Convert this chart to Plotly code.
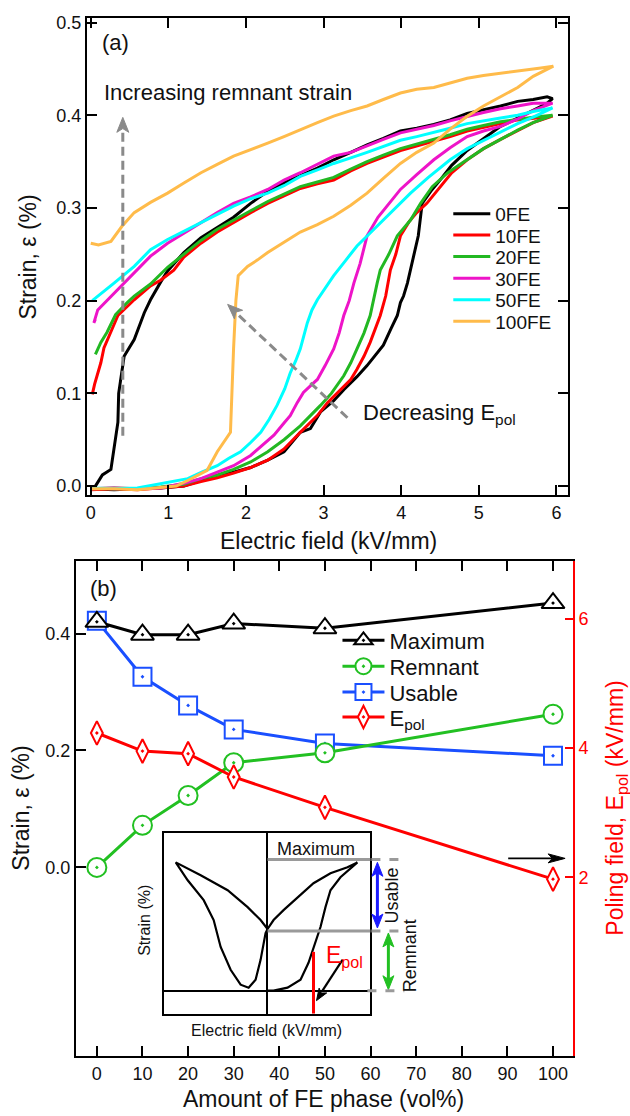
import plotly.graph_objects as go

W, H = 630, 1116
def px(x): return x / W
def py(y): return 1 - y / H

FONT = "Liberation Sans, Arial, sans-serif"

# ---------------- panel (a): strain vs electric field loops ----------------
fe_labels = ["0FE", "10FE", "20FE", "30FE", "50FE", "100FE"]
fe_colors = ["#000000", "#ff0000", "#22b822", "#ee14c8", "#00ffff", "#ffbb4a"]

E_0fe = [0.0, 0.3, 0.6, 0.9, 1.2, 1.42, 1.63, 1.84, 2.06, 2.28, 2.49, 2.7, 2.83, 2.96, 3.13, 3.26, 3.43, 3.56, 3.69, 3.77, 3.87, 3.95, 3.99, 4.03, 4.08, 4.12, 4.22, 4.27, 4.38, 4.5, 4.65, 4.85, 5.06, 5.28, 5.5, 5.7, 5.88, 5.95,
         5.88, 5.7, 5.5, 5.28, 5.06, 4.85, 4.63, 4.42, 4.2, 3.99, 3.77, 3.56, 3.35, 3.13, 2.92, 2.7, 2.49, 2.28, 2.06, 1.84, 1.63, 1.42, 1.2, 0.99, 0.9, 0.77, 0.69, 0.56, 0.43, 0.36, 0.35, 0.26, 0.15, 0.06]
S_0fe = [-0.003, -0.004, -0.003, -0.002, 0.0, 0.006, 0.01, 0.015, 0.02, 0.028, 0.037, 0.058, 0.062, 0.08, 0.092, 0.104, 0.118, 0.13, 0.143, 0.152, 0.17, 0.184, 0.198, 0.205, 0.219, 0.233, 0.27, 0.305, 0.318, 0.33, 0.346, 0.362, 0.375, 0.388, 0.397, 0.405, 0.413, 0.418,
         0.42, 0.417, 0.415, 0.41, 0.406, 0.402, 0.395, 0.39, 0.386, 0.383, 0.375, 0.368, 0.36, 0.352, 0.343, 0.335, 0.327, 0.318, 0.305, 0.29, 0.279, 0.268, 0.252, 0.232, 0.22, 0.201, 0.187, 0.158, 0.14, 0.10, 0.069, 0.018, 0.012, 0.0]

E_10fe = [0.0, 0.3, 0.6, 0.9, 1.2, 1.42, 1.63, 1.84, 2.06, 2.28, 2.49, 2.7, 2.92, 3.05, 3.22, 3.35, 3.43, 3.52, 3.6, 3.67, 3.73, 3.8, 3.86, 3.93, 3.99, 4.1, 4.2, 4.33, 4.5, 4.65, 4.85, 5.06, 5.28, 5.5, 5.7, 5.95,
          5.7, 5.5, 5.28, 5.06, 4.85, 4.63, 4.42, 4.2, 3.99, 3.77, 3.56, 3.35, 3.13, 2.92, 2.7, 2.49, 2.28, 2.06, 1.84, 1.63, 1.42, 1.2, 1.07, 0.9, 0.77, 0.56, 0.35, 0.17, 0.13, 0.09, 0.05, 0.02]
S_10fe = [-0.004, -0.003, -0.004, -0.002, 0.0, 0.005, 0.009, 0.014, 0.02, 0.028, 0.04, 0.058, 0.076, 0.09, 0.104, 0.115, 0.126, 0.14, 0.155, 0.17, 0.184, 0.205, 0.233, 0.25, 0.27, 0.285, 0.295, 0.305, 0.323, 0.338, 0.352, 0.364, 0.374, 0.383, 0.392, 0.399,
          0.397, 0.395, 0.391, 0.387, 0.383, 0.377, 0.372, 0.367, 0.362, 0.355, 0.348, 0.34, 0.33, 0.326, 0.321, 0.313, 0.305, 0.295, 0.284, 0.274, 0.262, 0.247, 0.233, 0.222, 0.216, 0.201, 0.184, 0.149, 0.133, 0.122, 0.11, 0.099]

E_20fe = [0.0, 0.3, 0.6, 0.9, 1.2, 1.42, 1.63, 1.84, 2.06, 2.28, 2.49, 2.7, 2.96, 3.1, 3.26, 3.35, 3.43, 3.52, 3.6, 3.65, 3.69, 3.73, 3.84, 3.95, 4.05, 4.12, 4.25, 4.4, 4.6, 4.85, 5.06, 5.28, 5.5, 5.7, 5.95,
          5.7, 5.5, 5.28, 5.06, 4.85, 4.63, 4.42, 4.2, 3.99, 3.77, 3.56, 3.35, 3.13, 2.92, 2.7, 2.49, 2.28, 2.06, 1.84, 1.63, 1.42, 1.2, 0.99, 0.77, 0.56, 0.47, 0.32, 0.21, 0.13, 0.06]
S_20fe = [-0.003, -0.002, -0.003, -0.001, 0.002, 0.008, 0.012, 0.018, 0.026, 0.037, 0.05, 0.065, 0.087, 0.1, 0.119, 0.133, 0.148, 0.165, 0.184, 0.205, 0.219, 0.233, 0.25, 0.27, 0.28, 0.287, 0.305, 0.323, 0.338, 0.352, 0.364, 0.374, 0.384, 0.392, 0.4,
          0.398, 0.396, 0.393, 0.389, 0.385, 0.379, 0.374, 0.369, 0.364, 0.357, 0.35, 0.342, 0.333, 0.328, 0.323, 0.315, 0.307, 0.297, 0.287, 0.277, 0.265, 0.25, 0.236, 0.218, 0.205, 0.198, 0.185, 0.166, 0.155, 0.142]

E_30fe = [0.0, 0.3, 0.6, 0.9, 1.2, 1.42, 1.63, 1.84, 2.06, 2.2, 2.36, 2.49, 2.57, 2.66, 2.74, 2.83, 2.92, 3.02, 3.13, 3.2, 3.26, 3.33, 3.39, 3.47, 3.56, 3.7, 3.85, 3.99, 4.2, 4.42, 4.63, 4.85, 5.06, 5.28, 5.5, 5.7, 5.95,
          5.7, 5.5, 5.28, 5.06, 4.85, 4.63, 4.42, 4.2, 3.99, 3.77, 3.56, 3.35, 3.13, 2.92, 2.7, 2.49, 2.28, 2.06, 1.84, 1.63, 1.42, 1.2, 0.99, 0.77, 0.56, 0.43, 0.26, 0.09, 0.04, 0.06]
S_30fe = [-0.003, -0.002, -0.003, -0.002, 0.003, 0.008, 0.015, 0.022, 0.033, 0.043, 0.055, 0.068, 0.076, 0.09, 0.101, 0.108, 0.115, 0.13, 0.148, 0.165, 0.184, 0.2, 0.219, 0.24, 0.27, 0.29, 0.305, 0.32, 0.336, 0.352, 0.365, 0.377, 0.383, 0.388, 0.396, 0.405, 0.413,
          0.413, 0.41, 0.407, 0.403, 0.399, 0.394, 0.389, 0.385, 0.381, 0.374, 0.367, 0.36, 0.356, 0.347, 0.338, 0.33, 0.32, 0.312, 0.305, 0.295, 0.284, 0.273, 0.262, 0.248, 0.23, 0.22, 0.205, 0.19, 0.176, 0.18]

E_50fe = [0.0, 0.3, 0.6, 0.99, 1.25, 1.43, 1.63, 1.78, 1.93, 2.06, 2.19, 2.3, 2.4, 2.5, 2.57, 2.64, 2.7, 2.79, 2.85, 2.92, 3.02, 3.13, 3.28, 3.43, 3.6, 3.77, 3.95, 4.12, 4.35, 4.63, 4.85, 5.06, 5.28, 5.5, 5.7, 5.95,
          5.7, 5.5, 5.28, 5.06, 4.85, 4.63, 4.42, 4.2, 3.99, 3.77, 3.56, 3.35, 3.13, 2.92, 2.7, 2.49, 2.28, 2.06, 1.84, 1.63, 1.42, 1.2, 0.99, 0.77, 0.56, 0.3, 0.13, 0.02]
S_50fe = [-0.002, -0.003, -0.002, 0.004, 0.008, 0.015, 0.022, 0.03, 0.037, 0.047, 0.058, 0.072, 0.087, 0.105, 0.122, 0.135, 0.148, 0.176, 0.19, 0.201, 0.214, 0.227, 0.243, 0.259, 0.273, 0.287, 0.302, 0.316, 0.333, 0.352, 0.364, 0.373, 0.382, 0.391, 0.398, 0.408,
          0.404, 0.4, 0.397, 0.394, 0.391, 0.386, 0.382, 0.377, 0.373, 0.366, 0.36, 0.354, 0.348, 0.341, 0.334, 0.324, 0.316, 0.31, 0.302, 0.293, 0.284, 0.275, 0.266, 0.255, 0.237, 0.219, 0.207, 0.2]

E_100fe = [0.0, 0.3, 0.6, 0.9, 1.1, 1.25, 1.42, 1.5, 1.63, 1.72, 1.8, 1.84, 1.87, 1.9, 2.02, 2.15, 2.28, 2.49, 2.7, 2.92, 3.13, 3.35, 3.56, 3.77, 3.99, 4.2, 4.42, 4.63, 4.85, 5.06, 5.28, 5.5, 5.7, 5.85, 5.96,
           5.8, 5.5, 5.28, 5.06, 4.85, 4.63, 4.42, 4.2, 3.99, 3.77, 3.56, 3.35, 3.13, 2.92, 2.7, 2.49, 2.28, 2.06, 1.84, 1.63, 1.42, 1.2, 0.99, 0.77, 0.56, 0.4, 0.26, 0.1, 0.0]
S_100fe = [-0.003, -0.003, -0.004, -0.002, 0.0, 0.006, 0.013, 0.017, 0.037, 0.048, 0.058, 0.148, 0.2, 0.227, 0.237, 0.244, 0.252, 0.263, 0.274, 0.282, 0.291, 0.303, 0.316, 0.332, 0.348, 0.36, 0.37, 0.385, 0.399, 0.41, 0.42, 0.43, 0.442, 0.448, 0.453,
           0.451, 0.448, 0.445, 0.443, 0.44, 0.435, 0.43, 0.428, 0.424, 0.417, 0.41, 0.405, 0.399, 0.392, 0.384, 0.377, 0.37, 0.363, 0.356, 0.347, 0.338, 0.327, 0.316, 0.306, 0.295, 0.28, 0.264, 0.26, 0.262]

loops_E = [E_0fe, E_10fe, E_20fe, E_30fe, E_50fe, E_100fe]
loops_S = [S_0fe, S_10fe, S_20fe, S_30fe, S_50fe, S_100fe]

# ---------------- panel (b): summary vs FE content ----------------
fe_amount = [0, 10, 20, 30, 50, 100]
strain_max = [0.420, 0.398, 0.398, 0.417, 0.409, 0.452]
strain_rem = [0.000, 0.072, 0.123, 0.179, 0.196, 0.262]
strain_use = [0.422, 0.326, 0.277, 0.236, 0.212, 0.191]
e_pol = [4.23, 3.95, 3.91, 3.55, 3.08, 1.97]

# inset schematic butterfly loop (arbitrary units)
inset_x = [0.5, -6.5, -19.5, -39.5, -66.5, -91.5, -79.5, -63.5, -53.5, -46.5, -36.5, -26.5, -18.5, -11.5, -6.5, -1.5, 0.5,
           6.5, 16.5, 30.5, 46.5, 63.5, 80.5, 90.5, 73.5, 63.5, 58.5, 53.5, 48.5, 41.5, 33.5, 20.5, 6.5, 0.5]
inset_y = [62, 71, 84, 101, 116, 129, 111, 91, 71, 44, 21, 6, 3, 11, 31, 58, 62,
           71, 81, 94, 108, 118, 124, 129, 114, 101, 84, 64, 48, 28, 11, 3, 0, 0]

fig = go.Figure()

# legend rows (screen y of each entry centre)
rows_a = [210, 231.5, 253, 275, 296.5, 318]
for i, (lab, col, ex, sy) in enumerate(zip(fe_labels, fe_colors, loops_E, loops_S)):
    fig.add_trace(go.Scatter(x=ex, y=sy, mode="lines", name=lab,
                             line=dict(color=col, width=3), xaxis="x", yaxis="y",
                             legend="legend" if i == 0 else "legend%d" % (i + 1)))

b_names = ["Maximum", "Remnant", "Usable", "E<sub>pol</sub>"]
b_legend_ids = ["legend7", "legend8", "legend9", "legend10"]
rows_b = [639, 665, 691, 716]

fig.add_trace(go.Scatter(x=fe_amount, y=e_pol, name=b_names[3], mode="lines+markers",
                         line=dict(color="#ff0000", width=3),
                         marker=dict(symbol="diamond-tall-dot", size=17, color="white",
                                     line=dict(color="#ff0000", width=2)),
                         xaxis="x2", yaxis="y3", legend=b_legend_ids[3]))
fig.add_trace(go.Scatter(x=fe_amount, y=strain_use, name=b_names[2], mode="lines+markers",
                         line=dict(color="#1a4fff", width=3),
                         marker=dict(symbol="square-dot", size=18, color="white",
                                     line=dict(color="#1a4fff", width=2)),
                         xaxis="x2", yaxis="y2", legend=b_legend_ids[2]))
fig.add_trace(go.Scatter(x=fe_amount, y=strain_max, name=b_names[0], mode="lines+markers",
                         line=dict(color="#000000", width=3),
                         marker=dict(symbol="triangle-up-dot", size=20, color="white",
                                     line=dict(color="#000000", width=2)),
                         xaxis="x2", yaxis="y2", legend=b_legend_ids[0]))
fig.add_trace(go.Scatter(x=fe_amount, y=strain_rem, name=b_names[1], mode="lines+markers",
                         line=dict(color="#22c022", width=3),
                         marker=dict(symbol="circle-dot", size=19, color="white",
                                     line=dict(color="#22c022", width=2)),
                         xaxis="x2", yaxis="y2", legend=b_legend_ids[1]))

fig.add_trace(go.Scatter(x=inset_x, y=inset_y, mode="lines", showlegend=False,
                         line=dict(color="black", width=2.2), xaxis="x3", yaxis="y4"))

ax_common = dict(showgrid=False, zeroline=False, showline=True, linecolor="black", linewidth=1.8,
                 ticks="inside", ticklen=10, tickwidth=1.5, tickcolor="black",
                 tickfont=dict(size=18, color="#111", family=FONT))

layout = dict(
    width=W, height=H, margin=dict(l=0, r=0, t=0, b=0),
    paper_bgcolor="white", plot_bgcolor="white",
    font=dict(family=FONT, color="#111"),
    xaxis=dict(domain=[px(86), px(568)], range=[-0.05, 6.15], dtick=1, tick0=0, anchor="y",
               mirror="ticks", **ax_common),
    yaxis=dict(domain=[py(493), py(13)], range=[-0.01, 0.505], dtick=0.1, tick0=0, tickformat=".1f",
               anchor="x", mirror="ticks", **ax_common),
    xaxis2=dict(domain=[px(75), px(573)], range=[-4.6, 104.4], dtick=10, tick0=0, anchor="y2",
                mirror="ticks", **ax_common),
    yaxis2=dict(domain=[py(1057), py(559)], range=[-0.323, 0.524], tickvals=[0, 0.2, 0.4],
                tickformat=".1f", anchor="x2", **ax_common),
    yaxis3=dict(overlaying="y2", side="right", anchor="x2", range=[-0.77, 6.89], tickvals=[2, 4, 6],
                showgrid=False, zeroline=False, showline=True, linecolor="#ff0000", linewidth=1.8,
                ticks="inside", ticklen=8, tickwidth=1.5, tickcolor="#ff0000",
                tickfont=dict(size=18, color="#ff0000", family=FONT)),
    xaxis3=dict(domain=[px(163), px(370)], range=[-103.5, 103.5], anchor="y4",
                showgrid=False, showticklabels=False, ticks="", showline=True, mirror=True,
                linecolor="black", linewidth=1.5, zeroline=True, zerolinecolor="black", zerolinewidth=1.5),
    yaxis4=dict(domain=[py(1014), py(832)], range=[-23, 159], anchor="x3",
                showgrid=False, showticklabels=False, ticks="", showline=True, mirror=True,
                linecolor="black", linewidth=1.5, zeroline=True, zerolinecolor="black", zerolinewidth=1.5),
)
for i, ry in enumerate(rows_a):
    key = "legend" if i == 0 else "legend%d" % (i + 1)
    layout[key] = dict(x=px(448), y=py(ry), xanchor="left", yanchor="middle", bgcolor="rgba(0,0,0,0)",
                       font=dict(size=19, family=FONT, color="#111"), itemwidth=37, borderwidth=0)
for key, ry in zip(b_legend_ids, rows_b):
    layout[key] = dict(x=px(337), y=py(ry), xanchor="left", yanchor="middle", bgcolor="rgba(0,0,0,0)",
                       font=dict(size=22, family=FONT, color="#111"), itemwidth=42, borderwidth=0)
fig.update_layout(**layout)

ann = []
def text(x, y, t, size=23, color="#111", angle=0, xanchor="center"):
    ann.append(dict(x=px(x), y=py(y), xref="paper", yref="paper", text=t, showarrow=False,
                    font=dict(size=size, color=color, family=FONT), textangle=angle,
                    xanchor=xanchor, yanchor="middle"))

# axis titles
text(27, 253, "Strain, ε (%)", angle=-90)
text(328, 539, "Electric field (kV/mm)")
text(20, 807, "Strain, ε (%)", angle=-90)
text(323, 1100, "Amount of FE phase (vol%)")
text(617, 808, "Poling field, E<sub>pol</sub> (kV/mm)", color="#ff0000", angle=-90)
# panel labels and notes
text(99, 38, "(a)", size=22, xanchor="left")
text(87, 587, "(b)", size=22, xanchor="left")
text(101, 88, "Increasing remnant strain", size=22, xanchor="left")
text(361, 411, "Decreasing E<sub>pol</sub>", size=22, xanchor="left")
# inset labels
text(316, 849, "Maximum", size=18)
text(392, 895, "Usable", size=18, angle=-90)
text(410, 956, "Remnant", size=18, angle=-90)
text(143, 920, "Strain (%)", size=16, angle=-90)
text(266, 1031, "Electric field (kV/mm)", size=16)
text(324, 957, "E<sub>pol</sub>", size=23, color="#ff0000", xanchor="left")

shapes = []
def seg(x0, y0, x1, y1, color, width, dash=None):
    ln = dict(color=color, width=width)
    if dash:
        ln["dash"] = dash
    shapes.append(dict(type="line", xref="paper", yref="paper",
                       x0=px(x0), y0=py(y0), x1=px(x1), y1=py(y1), line=ln))

def head(tx, ty, ux, uy, L, Wd, color):
    # arrowhead (screen pixels) with tip (tx, ty) pointing along unit vector (ux, uy)
    bx, by = tx - ux * L, ty - uy * L
    nx, ny = tx - ux * L * 0.75, ty - uy * L * 0.75
    qx, qy = -uy, ux
    p1 = (bx + qx * Wd / 2, by + qy * Wd / 2)
    p2 = (bx - qx * Wd / 2, by - qy * Wd / 2)
    path = "M %.5f,%.5f L %.5f,%.5f L %.5f,%.5f L %.5f,%.5f Z" % (
        px(tx), py(ty), px(p1[0]), py(p1[1]), px(nx), py(ny), px(p2[0]), py(p2[1]))
    shapes.append(dict(type="path", xref="paper", yref="paper", path=path,
                       fillcolor=color, line=dict(color=color, width=1)))

GRAY = "#8a8a8a"
# vertical dashed arrow (increasing remnant strain)
seg(122, 433, 122, 122, GRAY, 3, "9px,5px")
head(122, 113, 0, -1, 15, 12, GRAY)
# diagonal dashed arrow (decreasing E_pol)
seg(347, 415, 236, 310, GRAY, 3, "9px,5px")
head(227, 301, -0.727, -0.686, 15, 12, GRAY)
# arrow to the right axis
seg(508, 858, 552, 858, "black", 1.6)
head(565, 858, 1, 0, 17, 9, "black")
# inset E_pol pointer
seg(342, 960, 322, 991, "black", 2.2)
head(316, 1001, -0.535, 0.845, 12, 9, "black")
# usable / remnant double arrows
seg(377, 872, 377, 918, "#1a1aff", 3)
head(377, 862, 0, -1, 14, 11, "#1a1aff")
head(377, 928, 0, 1, 14, 11, "#1a1aff")
seg(388, 943, 388, 980, "#22c022", 3)
head(388, 933, 0, -1, 14, 11, "#22c022")
head(388, 990, 0, 1, 14, 11, "#22c022")
# inset level lines
seg(267, 859, 370, 859, "#9a9a9a", 3)
seg(267, 931, 370, 931, "#9a9a9a", 3)
seg(371, 859, 404, 859, "#9a9a9a", 3, "dash")
seg(371, 931, 405, 931, "#9a9a9a", 3, "dash")
seg(367, 991, 404, 991, "#9a9a9a", 3, "dash")
seg(313, 952, 313, 1014, "#ff0000", 3)

fig.update_layout(annotations=ann, shapes=shapes)
fig.write_html("out.html", config={"displayModeBar": False},
               post_script="document.body.style.margin='0px';document.body.style.overflow='hidden';")
